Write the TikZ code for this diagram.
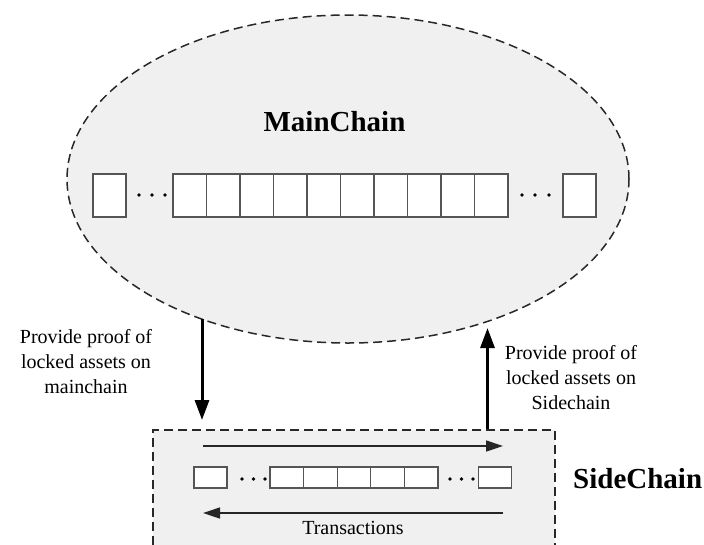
\documentclass[tikz,border=0pt]{standalone}
\usepackage{fontspec}
\setmainfont{Liberation Serif}
\usetikzlibrary{arrows.meta,shapes.geometric}
\definecolor{chainfill}{RGB}{240,240,240}
\definecolor{dashcol}{RGB}{40,40,40}
\definecolor{blkcol}{RGB}{85,85,85}
\begin{document}
\begin{tikzpicture}[x=1pt,y=-1pt,
  zone/.style={draw=dashcol,fill=chainfill,line width=1.5pt,dash pattern=on 9pt off 5pt},
  blk/.style={draw=blkcol,fill=white,line width=1.3pt,inner sep=0pt,minimum width=33pt,minimum height=43pt,anchor=center},
  sblk/.style={draw=blkcol,fill=white,line width=1.3pt,inner sep=0pt,minimum width=33pt,minimum height=21pt,anchor=center},
  dotnode/.style={circle,fill=black,inner sep=0pt,minimum size=3.6pt},
  bigarrow/.style={line width=3pt,-{Triangle[length=20pt,width=14pt]}},
  thinarrow/.style={line width=1.4pt,draw=black!85,-{Triangle[length=17pt,width=11pt]}},
  lbl/.style={align=center,font=\fontsize{20}{25}\selectfont,inner sep=0pt},
  title/.style={font=\fontsize{29}{32}\selectfont\bfseries,inner sep=0pt}
]
\useasboundingbox (0,0) rectangle (704,544);
\clip (0,0) rectangle (704,544);
% main chain ellipse
\node[zone,ellipse,minimum width=562pt,minimum height=328pt,inner sep=0pt] (main) at (348,179) {};
\node[title] (maintitle) at (334.5,122) {MainChain};
% main chain blocks
\node[blk] (mfirst) at (109.5,195.5) {};
\foreach \i in {1,...,10}{
  \node[blk,minimum width=33.5pt] (m\i) at ({173+33.5*(\i-0.5)},195.5) {};
}
\node[blk] (mlast) at (579.5,195.5) {};
\foreach \x/\n in {139/a,152/b,165/c,522/d,535/e,549/f}{
  \node[dotnode] (md\n) at (\x,195) {};
}
% side chain box
\node[zone,rectangle,minimum width=402pt,minimum height=140pt,inner sep=0pt,anchor=north west] (side) at (152,429) {};
\node[title,anchor=west] (sidetitle) at (573,479) {SideChain};
% side chain blocks
\node[sblk] (sfirst) at (210.5,477.5) {};
\foreach \i in {1,...,5}{
  \node[sblk,minimum width=33.6pt] (s\i) at ({270+33.6*(\i-0.5)},477.5) {};
}
\node[sblk] (slast) at (495,477.5) {};
\foreach \x/\n in {242/a,253.5/b,265/c,450/d,461.5/e,473/f}{
  \node[dotnode] (sd\n) at (\x,479) {};
}
% arrows inside sidechain
\coordinate (r1) at (203,446);
\coordinate (r2) at (503,446);
\coordinate (l1) at (503,513);
\coordinate (l2) at (203,513);
\draw[thinarrow] (r1) -- (r2);
\draw[thinarrow] (l1) -- (l2);
\node[lbl] (tx) at (353,528) {Transactions};
% big arrows
\coordinate (downstart) at (202,319);
\coordinate (downend) at (202,420);
\coordinate (upstart) at (487.5,429);
\coordinate (upend) at (487.5,328);
\draw[bigarrow] (downstart) -- (downend);
\draw[bigarrow] (upstart) -- (upend);
\node[lbl] (lefttext) at (86,362) {Provide proof of\\locked assets on\\mainchain};
\node[lbl] (righttext) at (571,378) {Provide proof of\\locked assets on\\Sidechain};
\end{tikzpicture}
\end{document}
